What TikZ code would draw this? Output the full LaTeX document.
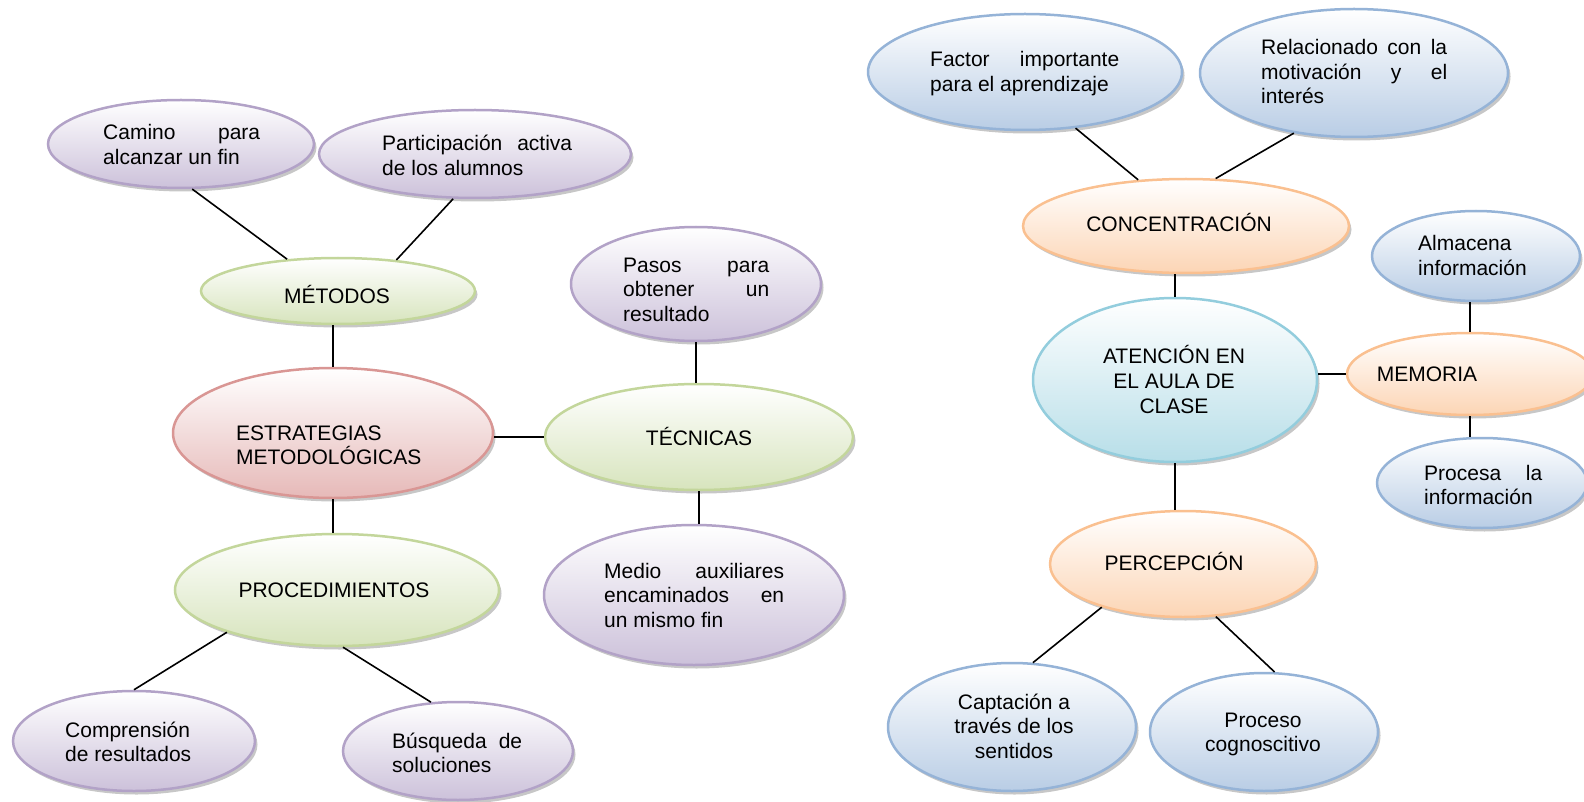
\documentclass[tikz,border=0pt]{standalone}
\usepackage{fontspec}
\setmainfont{Liberation Sans}
\usetikzlibrary{shapes.geometric,shadows,calc}
\definecolor{purpB}{HTML}{B2A2C7}\definecolor{purpF}{HTML}{CCC1DA}
\definecolor{greenB}{HTML}{C3D69B}\definecolor{greenF}{HTML}{D7E4BD}
\definecolor{redB}{HTML}{D99694}\definecolor{redF}{HTML}{E6B9B8}
\definecolor{blueB}{HTML}{95B3D7}\definecolor{blueF}{HTML}{B9CDE5}
\definecolor{orangeB}{HTML}{FAC090}\definecolor{orangeF}{HTML}{FCD5B5}
\definecolor{cyanB}{HTML}{93CDDD}\definecolor{cyanF}{HTML}{B7DEE8}
\tikzset{
  ell/.style={ellipse, inner sep=0pt, line width=2.5pt,
    general shadow={shadow xshift=2.5pt, shadow yshift=-3.5pt, fill=black!55, opacity=0.4}},
  ellPurp/.style={ell, draw=purpB, top color=white, bottom color=purpF},
  ellGreen/.style={ell, draw=greenB, top color=white, bottom color=greenF},
  ellRed/.style={ell, draw=redB, top color=white, bottom color=redF},
  ellBlue/.style={ell, draw=blueB, top color=white, bottom color=blueF},
  ellOrange/.style={ell, draw=orangeB, top color=white, bottom color=orangeF},
  ellCyan/.style={ell, draw=cyanB, top color=white, bottom color=cyanF},
  txt/.style={inner sep=0pt, font=\fontsize{21}{24.75}\selectfont, align=left},
  link/.style={line width=1.6pt, draw=black},
}
\begin{document}
\begin{tikzpicture}[x=1pt,y=-1pt]
\clip (0,0) rectangle (1584,802);
% ellipses
\node[ellPurp, minimum width=266pt, minimum height=88pt] (camino) at (181,144) {};
\node[ellPurp, minimum width=312pt, minimum height=88pt] (particip) at (475,154) {};
\node[ellGreen, minimum width=274pt, minimum height=66pt] (metodos) at (338,291) {};
\node[ellPurp, minimum width=250pt, minimum height=114pt] (pasos) at (696,284) {};
\node[ellRed, minimum width=320pt, minimum height=130pt] (estrategias) at (333,433) {};
\node[ellGreen, minimum width=308pt, minimum height=106pt] (tecnicas) at (699,437) {};
\node[ellGreen, minimum width=324pt, minimum height=112pt] (proced) at (337,590) {};
\node[ellPurp, minimum width=300pt, minimum height=140pt] (medio) at (694,595) {};
\node[ellPurp, minimum width=242pt, minimum height=100pt] (compren) at (134,741) {};
\node[ellPurp, minimum width=230pt, minimum height=98pt] (busqueda) at (458,751) {};
\node[ellBlue, minimum width=314pt, minimum height=116pt] (factor) at (1025,72) {};
\node[ellBlue, minimum width=308pt, minimum height=128pt] (relacion) at (1354,73) {};
\node[ellOrange, minimum width=326pt, minimum height=94pt] (concentr) at (1186,226) {};
\node[ellBlue, minimum width=208pt, minimum height=90pt] (almacena) at (1476,256) {};
\node[ellCyan, minimum width=284pt, minimum height=164pt] (atencion) at (1175,380) {};
\node[ellOrange, minimum width=246pt, minimum height=82pt] (memoria) at (1470,374) {};
\node[ellBlue, minimum width=210pt, minimum height=90pt] (procesa) at (1482,483) {};
\node[ellOrange, minimum width=266pt, minimum height=106pt] (percepcion) at (1183,564) {};
\node[ellBlue, minimum width=248pt, minimum height=128pt] (captacion) at (1012,727) {};
\node[ellBlue, minimum width=228pt, minimum height=118pt] (proceso) at (1264,732) {};
% texts (multi-line nodes anchored at the baseline of their last line)
\node[txt, anchor=base west] (tcamino) at (103,164.75) {\makebox[157pt][s]{Camino para}\\alcanzar un fin};
\node[txt, anchor=base west] (tparticip) at (382,175.25) {\makebox[190pt][s]{Participación activa}\\de los alumnos};
\node[txt, anchor=base] (tmetodos) at (337,303) {MÉTODOS};
\node[txt, anchor=base west] (tpasos) at (623,321.5) {\makebox[146pt][s]{Pasos para}\\\makebox[146pt][s]{obtener un}\\resultado};
\node[txt, anchor=base west] (testrategias) at (236,464.75) {ESTRATEGIAS\\METODOLÓGICAS};
\node[txt, anchor=base] (ttecnicas) at (699,445) {TÉCNICAS};
\node[txt, anchor=base] (tproced) at (334,597) {PROCEDIMIENTOS};
\node[txt, anchor=base west] (tmedio) at (604,627.5) {\makebox[180pt][s]{Medio auxiliares}\\\makebox[180pt][s]{encaminados en}\\un mismo fin};
\node[txt, anchor=base west] (tcompren) at (65,761.75) {Comprensión\\de resultados};
\node[txt, anchor=base west] (tbusqueda) at (392,772.75) {\makebox[130pt][s]{Búsqueda de}\\soluciones};
\node[txt, anchor=base west] (tfactor) at (930,91.75) {\makebox[189pt][s]{Factor importante}\\para el aprendizaje};
\node[txt, anchor=base west] (trelacion) at (1261,104) {\makebox[186pt][s]{Relacionado con la}\\\makebox[186pt][s]{motivación y el}\\interés};
\node[txt, anchor=base] (tconcentr) at (1179,232) {CONCENTRACIÓN};
\node[txt, anchor=base west] (talmacena) at (1418,275.25) {Almacena\\información};
\node[txt, anchor=base, align=center] (tatencion) at (1174,413) {ATENCIÓN EN\\EL AULA DE\\CLASE};
\node[txt, anchor=base] (tmemoria) at (1427,381) {MEMORIA};
\node[txt, anchor=base west] (tprocesa) at (1424,504.75) {\makebox[118pt][s]{Procesa la}\\información};
\node[txt, anchor=base] (tpercepcion) at (1174,570) {PERCEPCIÓN};
\node[txt, anchor=base, align=center] (tcaptacion) at (1014,758.5) {Captación a\\través de los\\sentidos};
\node[txt, anchor=base, align=center] (tproceso) at (1263,751.75) {Proceso\\cognoscitivo};
% connectors
\draw[link] (camino.-76) -- (metodos.148);
\draw[link] (particip.-116) -- (metodos.28);
\draw[link] (metodos.south -| estrategias.north) -- (estrategias.north);
\draw[link] (estrategias.east |- tecnicas.west) -- (tecnicas.west);
\draw[link] (pasos.south) -- (pasos.south |- tecnicas.north);
\draw[link] (tecnicas.south) -- (tecnicas.south |- medio.north);
\draw[link] (estrategias.south) -- (estrategias.south |- proced.north);
\draw[link] (proced.201) -- (compren.north);
\draw[link] (proced.-84) -- (busqueda.119);
\draw[link] (factor.-48) -- (concentr.136);
\draw[link] (relacion.-135) -- (concentr.58);
\draw[link] (atencion.north |- concentr.south) -- (atencion.north);
\draw[link] (atencion.east |- memoria.west) -- (memoria.west);
\draw[link] (memoria.north |- almacena.south) -- (memoria.north);
\draw[link] (memoria.south) -- (memoria.south |- procesa.north);
\draw[link] (atencion.south) -- (atencion.south |- percepcion.north);
\draw[link] (percepcion.208) -- (captacion.72);
\draw[link] (percepcion.-58) -- (proceso.80);
\end{tikzpicture}
\end{document}
